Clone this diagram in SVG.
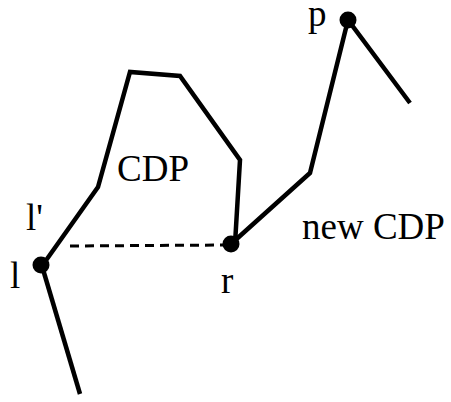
<svg xmlns="http://www.w3.org/2000/svg" width="451" height="402" viewBox="0 0 451 402">
<style>
.ln{fill:none;stroke:#000;stroke-width:4.5;stroke-linejoin:miter;stroke-linecap:butt}
.dash{fill:none;stroke:#000;stroke-width:3;stroke-dasharray:9,6}
.pt{fill:#000}
text{font-family:"Liberation Serif","Times New Roman",serif;font-size:37px;fill:#000}
</style>
<rect width="451" height="402" fill="#fff"/>
<g id="connectors">
<polyline class="ln" points="80,394 42,266"/>
<polyline class="ln" points="42,266 98,187 130,72 180,76 240,160 235,244"/>
<polyline class="ln" points="231,244 310,173 348,20 410,103"/>
<line class="dash" x1="70" y1="246" x2="225" y2="245"/>
</g>
<g id="node-l"><circle class="pt" cx="41" cy="265" r="8.5"/><text x="10" y="288">l</text></g>
<g id="node-lprime"><text x="26" y="230">l'</text></g>
<g id="node-r"><circle class="pt" cx="231" cy="244" r="8.5"/><text x="221" y="293">r</text></g>
<g id="node-p"><circle class="pt" cx="348" cy="20" r="8.5"/><text x="308" y="26">p</text></g>
<g id="label-cdp"><text x="117" y="181">CDP</text></g>
<g id="label-newcdp"><text x="302" y="239">new CDP</text></g>
</svg>
